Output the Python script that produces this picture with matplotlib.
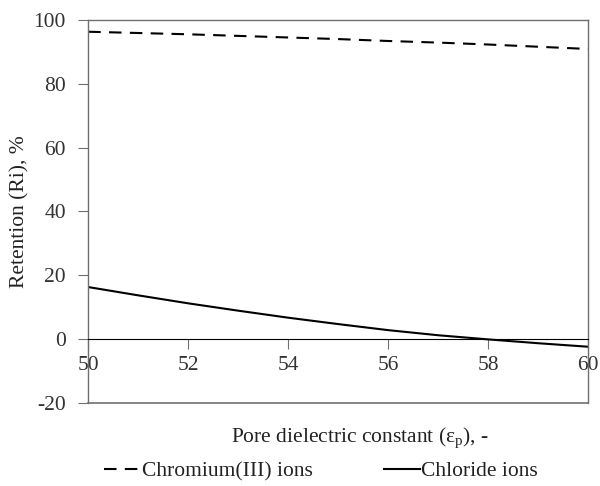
import numpy as np
import matplotlib.pyplot as plt

plt.rcParams['font.family'] = ['Liberation Serif', 'DejaVu Serif']
plt.rcParams['axes.unicode_minus'] = False

eps_p = [50, 51, 52, 53, 54, 55, 56, 57, 58, 59, 60]
chromium = [96.3, 95.9, 95.5, 95.0, 94.5, 94.0, 93.4, 92.9, 92.3, 91.6, 90.9]
chloride = [16.3, 13.7, 11.2, 8.9, 6.7, 4.7, 2.8, 1.2, -0.1, -1.3, -2.4]

xticks = [50, 52, 54, 56, 58, 60]
yticks = [-20, 0, 20, 40, 60, 80, 100]

fig = plt.figure(figsize=(6, 4.86), dpi=100)
ax = fig.add_axes([0.147, 0.171, 0.833, 0.788])

ax.plot(eps_p, chromium, color='black', lw=1.5, ls=(0, (6, 4)),
        label='Chromium(III) ions')
ax.plot(eps_p, chloride, color='black', lw=1.5, label='Chloride ions')

ax.set_xlim(50, 60)
ax.set_ylim(-20, 100)
ax.set_xticks(xticks)
ax.set_yticks(yticks)

# x axis crosses at zero, box kept around the plot
ax.spines['bottom'].set_position(('data', 0))
ax.spines['bottom'].set_color('black')
ax.axhline(-20, color='#6f6f6f', lw=1.2, clip_on=False)
for s in ['left', 'right', 'top']:
    ax.spines[s].set_color('#6f6f6f')
    ax.spines[s].set_linewidth(1.0)

ax.tick_params(axis='both', labelsize=15.5, color='#6f6f6f', length=7,
               labelcolor='#333333')
ax.tick_params(axis='y', pad=9)
ax.tick_params(axis='x', pad=5)

ax.set_ylabel('Retention (Ri), %', fontsize=15.5, color='#222222', labelpad=3)
fig.text(0.6, 0.09, r'Pore dielectric constant ($\mathregular{\epsilon_p}$), -',
         ha='center', fontsize=15.5, color='#222222')

fig.legend(loc='lower center', bbox_to_anchor=(0.535, -0.03), ncol=2,
           frameon=False, fontsize=15.5, handlelength=1.7, columnspacing=3.3,
           handletextpad=0.05, labelcolor='#222222')

fig.savefig('out.png', dpi=100)
